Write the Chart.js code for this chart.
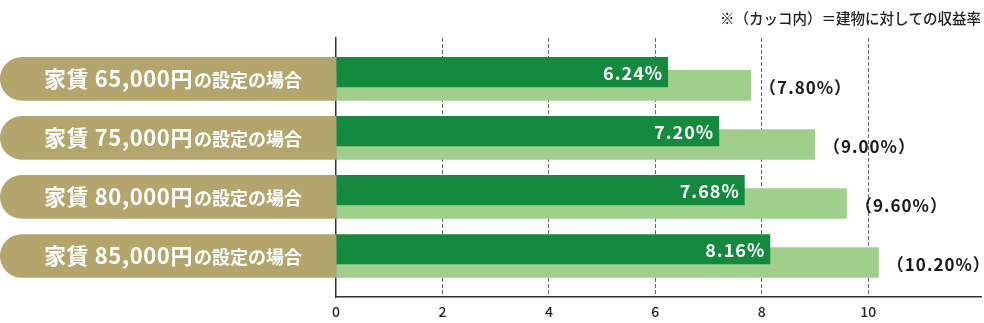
<!DOCTYPE html>
<html><head><meta charset="utf-8">
<script src="https://cdn.jsdelivr.net/npm/chart.js@4/dist/chart.umd.min.js"></script>
<style>html,body{margin:0;padding:0;background:#fff}#wrap{width:984px;height:323px}</style>
</head><body><div id="wrap"><canvas id="c" width="984" height="323"></canvas></div>
<script>
const categories = ['家賃 65,000円の設定の場合', '家賃 75,000円の設定の場合', '家賃 80,000円の設定の場合', '家賃 85,000円の設定の場合'];
const rentYield = [6.24, 7.20, 7.68, 8.16];
const buildingYield = [7.80, 9.00, 9.60, 10.20];
const xTicks = [0, 2, 4, 6, 8, 10];
const note = '※（カッコ内）＝建物に対しての収益率';

const FONT = '"Noto Sans CJK JP", "Noto Sans", sans-serif';
const GOLD = '#b4a56d', DARK = '#138a3e', LIGHT = '#a0cf8c';

const decor = {
  id: 'decor',
  beforeDatasetsDraw(chart) {
    const ctx = chart.ctx, ca = chart.chartArea;
    const m0 = chart.getDatasetMeta(0), m1 = chart.getDatasetMeta(1);
    categories.forEach((cat, i) => {
      const b0 = m0.data[i], b1 = m1.data[i];
      const top = b0.y - b0.height / 2, bot = b1.y + b1.height / 2;
      const h = bot - top, r = h / 2;
      ctx.save();
      ctx.fillStyle = GOLD;
      ctx.beginPath();
      ctx.moveTo(ca.left, top);
      ctx.lineTo(r, top);
      ctx.arc(r, top + r, r, -Math.PI / 2, Math.PI / 2, true);
      ctx.lineTo(ca.left, bot);
      ctx.closePath();
      ctx.fill();
      const cut = cat.indexOf('円') + 1;
      const big = cat.slice(0, cut), small = cat.slice(cut);
      const fb = 'bold 22px ' + FONT, fs = 'bold 18px ' + FONT;
      ctx.letterSpacing = '0.6px';
      ctx.font = fb; const wb = ctx.measureText(big).width;
      ctx.letterSpacing = '0px';
      ctx.font = fs; const ws = ctx.measureText(small).width;
      const x0 = 172.5 - (wb + ws) / 2;
      const yb = top + r + 8;
      ctx.fillStyle = '#ffffff';
      ctx.textBaseline = 'alphabetic';
      ctx.textAlign = 'left';
      ctx.letterSpacing = '0.6px';
      ctx.font = fb; ctx.fillText(big, x0, yb);
      ctx.letterSpacing = '0px';
      ctx.font = fs; ctx.fillText(small, x0 + wb + 1, yb);
      ctx.restore();
    });
  },
  afterDatasetsDraw(chart) {
    const ctx = chart.ctx;
    const m0 = chart.getDatasetMeta(0), m1 = chart.getDatasetMeta(1);
    ctx.save();
    ctx.textBaseline = 'middle';
    categories.forEach((cat, i) => {
      const b0 = m0.data[i], b1 = m1.data[i];
      ctx.font = 'bold 18px ' + FONT;
      ctx.letterSpacing = '1px';
      ctx.fillStyle = '#ffffff';
      ctx.textAlign = 'right';
      ctx.fillText(rentYield[i].toFixed(2) + '%', b0.x - 5, b0.y + 1);
      ctx.fillStyle = '#1a1a1a';
      ctx.textAlign = 'left';
      ctx.font = 'bold 17px ' + FONT;
      ctx.fillText('（' + buildingYield[i].toFixed(2) + '%）', b1.x + 8, b1.y + 2);
    });
    ctx.restore();
  },
  afterDraw(chart) {
    const ctx = chart.ctx;
    ctx.save();
    ctx.font = '500 14.5px ' + FONT;
    ctx.fillStyle = '#222';
    ctx.textAlign = 'right';
    ctx.textBaseline = 'middle';
    ctx.fillText(note, 981, 18);
    ctx.restore();
  }
};

new Chart(document.getElementById('c'), {
  type: 'bar',
  data: {
    datasets: [
      { label: '家賃収益率', data: rentYield.map((v, i) => ({ x: v, y: i })), backgroundColor: DARK,
        categoryPercentage: 0.4507, barPercentage: 2.264 },
      { label: '建物収益率', data: buildingYield.map((v, i) => ({ x: v, y: i })), backgroundColor: LIGHT,
        categoryPercentage: 0.4507, barPercentage: 2.30 }
    ]
  },
  options: {
    indexAxis: 'y',
    responsive: false,
    animation: false,
    layout: { padding: { left: 336, right: 3, top: 38, bottom: -3 } },
    plugins: { legend: { display: false }, tooltip: { enabled: false }, title: { display: false } },
    scales: {
      y: {
        type: 'linear', reverse: true, min: -0.69, max: 3.70, z: 1, offset: false,
        afterBuildTicks: s => { s.ticks = categories.map((c, i) => ({ value: i })); },
        ticks: { display: false },
        grid: { display: false, drawTicks: false, offset: false },
        border: { display: true, color: '#333', width: 1.5 }
      },
      x: {
        type: 'linear', min: 0, max: 12.12, z: 1,
        afterBuildTicks: s => { s.ticks = xTicks.map(v => ({ value: v })); },
        grid: { color: c => (c.tick && c.tick.value === 0) ? 'rgba(0,0,0,0)' : '#666', lineWidth: 1, drawTicks: false },
        border: { display: true, color: '#333', width: 1.5, dash: [4, 2] },
        ticks: { padding: 6, color: '#222', font: { family: FONT, size: 14, weight: '500' } }
      }
    }
  },
  plugins: [decor]
});
</script></body></html>
